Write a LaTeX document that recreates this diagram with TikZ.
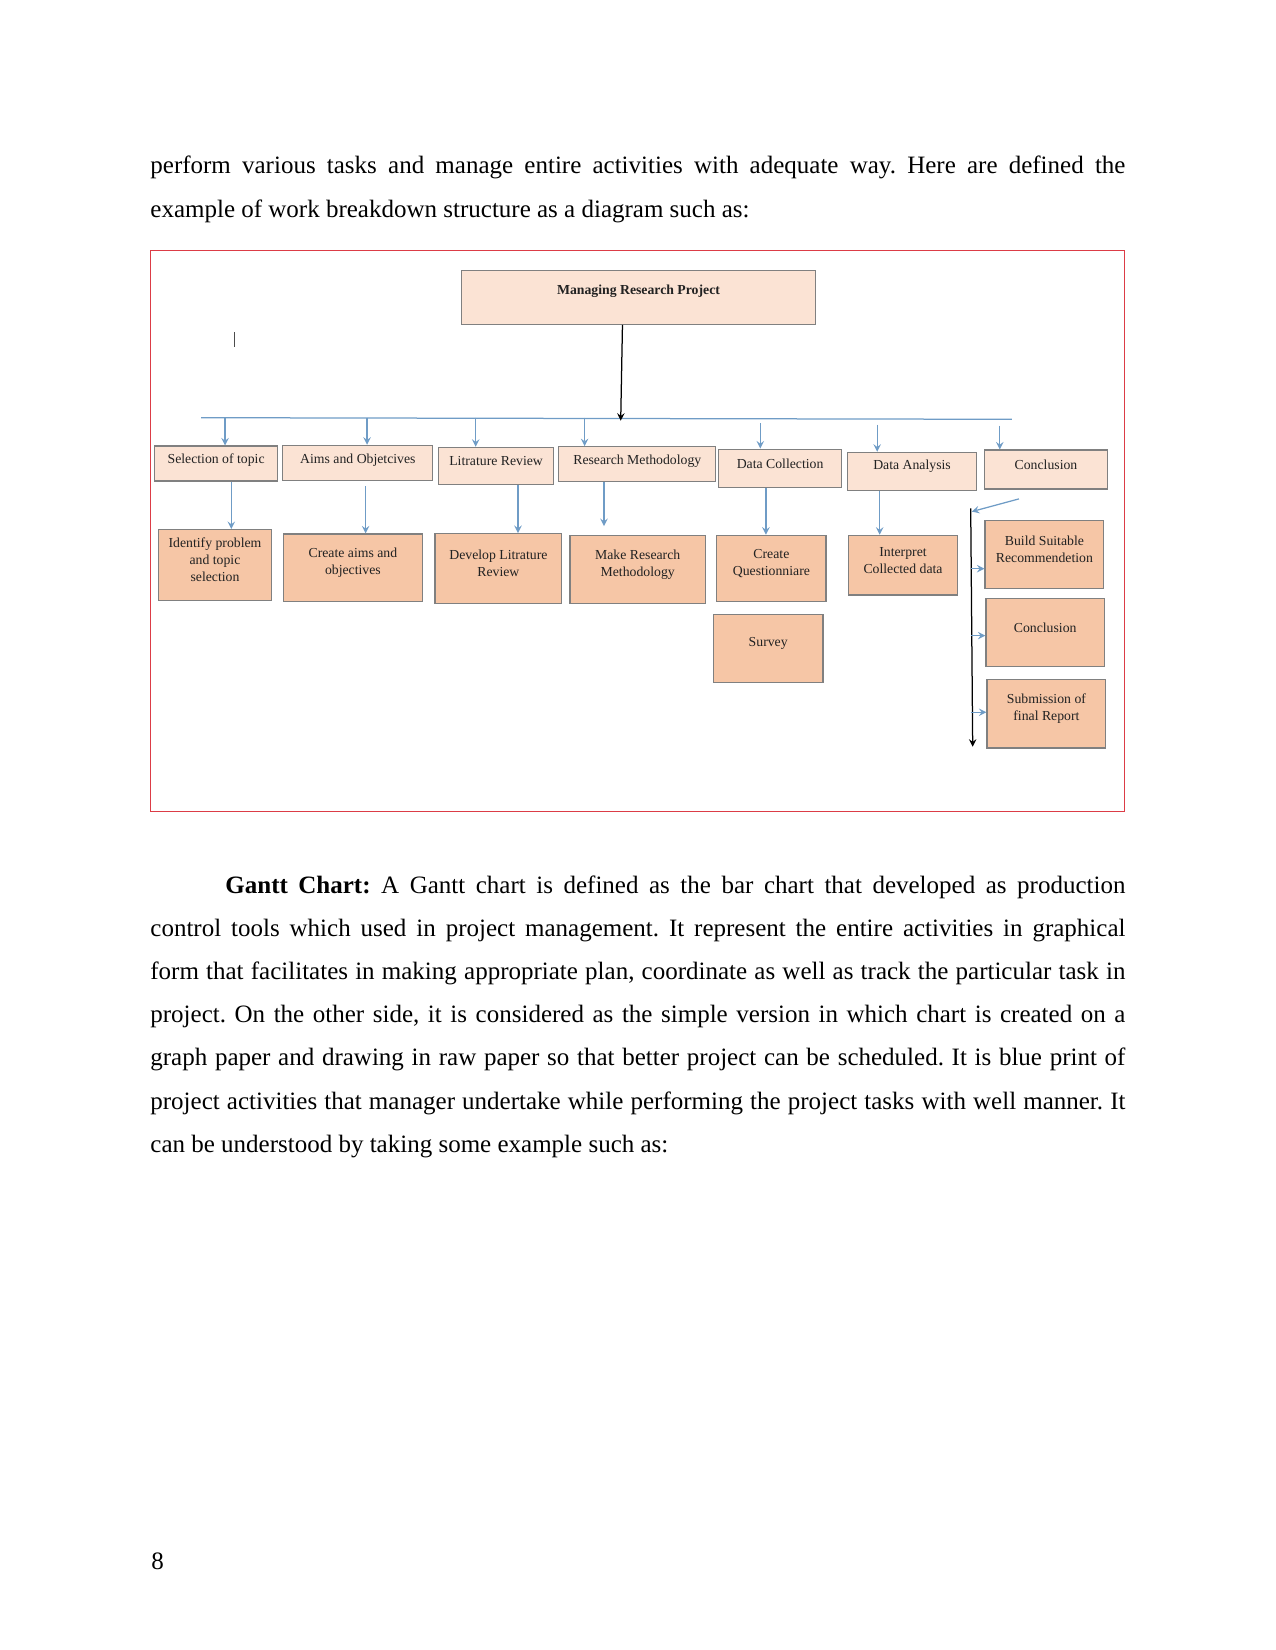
\documentclass[tikz,border=0pt]{standalone}
\usepackage{fontspec}
\setmainfont{Liberation Serif}
\usepackage{tikz}
\usetikzlibrary{shapes,arrows,positioning,calc}
\usepackage{xcolor}

\definecolor{wbslight}{HTML}{FBE3D4}
\definecolor{wbsdark}{HTML}{F6C6A6}
\definecolor{wbsedge}{HTML}{808080}
\definecolor{wbslink}{HTML}{6F9CC6}
\definecolor{wbsframe}{HTML}{DC3C46}
\definecolor{wbsink}{HTML}{222222}

\begin{document}
\begin{tikzpicture}[x=0.48pt, y=-0.48pt, >=stealth,
    para/.style={anchor=base west, inner sep=0pt, text width=468pt, align=justify,
      font=\fontsize{12}{20.75}\selectfont, execute at begin node={\frenchspacing\hyphenpenalty=10000}},
    sz/.style 2 args={minimum width=#1*0.48pt, minimum height=#2*0.48pt},
    headbox/.style={draw=wbsedge, fill=wbslight, line width=0.5pt, inner sep=0pt},
    phasebox/.style={draw=wbsedge, fill=wbslight, line width=0.5pt, inner sep=0pt},
    taskbox/.style={draw=wbsedge, fill=wbsdark, line width=0.6pt, inner sep=0pt},
    boxtext/.style={font=\fontsize{6.6}{8.2}\selectfont, align=center, text=wbsink, yshift=2.4pt, inner sep=0pt},
    link/.style={->, draw=wbslink, line width=0.6pt},
    spine/.style={->, draw=black, line width=0.6pt}]
    \useasboundingbox (0,0) rectangle (1275,1650);

    % Text above
    \node[para] (intro) at (150,174) {perform various tasks and manage entire activities with adequate way. Here are defined the\linebreak example of work breakdown structure as a diagram such as:};

    % Frame
    \draw[wbsframe, line width=0.6pt] (150.7,250.3) rectangle (1124.3,811.7);
    \draw[line width=0.6pt, black!70] (234.6,332.3) -- (234.6,346.7);

    % Top
    \node[headbox, sz={354}{53.6}, label={[boxtext, font=\fontsize{6.6}{8.2}\selectfont\bfseries, yshift=0.4pt]center:Managing Research Project}] (head) at (638.5,297.5) {};

    % Bar
    \coordinate (barL) at (201,417.7);
    \coordinate (barR) at (1011.8,419.3);
    \coordinate (hub) at (620.7,420.7);
    \draw[wbslink, line width=0.6pt] (barL) -- (barR);
    \draw[spine] ([xshift=-7.7pt]head.south) -- (hub);

    % Phases
    \node[phasebox, sz={123.6}{35}, label={[boxtext, yshift=-1pt]center:Selection of topic}] (sel) at (216.1,463.5) {};
    \node[phasebox, sz={150}{35}, label={[boxtext, yshift=-1pt]center:Aims and Objetcives}] (aims) at (357.9,462.8) {};
    \node[phasebox, sz={115}{37}, label={[boxtext]center:Litrature Review}] (lit) at (496.1,465.8) {};
    \node[phasebox, sz={156.7}{35}, label={[boxtext, yshift=-1pt]center:Research Methodology}] (meth) at (637.3,464.2) {};
    \node[phasebox, sz={123.2}{38.7}, label={[boxtext]center:Data Collection}] (coll) at (780.1,468.4) {};
    \node[phasebox, sz={128.3}{38.4}, label={[boxtext]center:Data Analysis}] (anal) at (912,471.5) {};
    \node[phasebox, sz={123.6}{39}, label={[boxtext]center:Conclusion}] (conc) at (1046,469.5) {};

    \draw[link] ([xshift=4.3pt]sel.north |- barL) -- ([xshift=4.3pt]sel.north);
    \draw[link] ([xshift=4.4pt]aims.north |- barL) -- ([xshift=4.4pt]aims.north);
    \draw[link] ([xshift=-9.8pt]lit.north |- barL) -- ([xshift=-9.8pt]lit.north);
    \draw[link] ([xshift=-25.3pt]meth.north |- barL) -- ([xshift=-25.3pt]meth.north);
    \draw[link] ([xshift=-9.5pt,yshift=-1.8pt]coll.north |- barR) -- ([xshift=-9.5pt]coll.north);
    \draw[link] ([xshift=-16.7pt,yshift=-2.5pt]anal.north |- barR) -- ([xshift=-16.7pt]anal.north);
    \draw[link] ([xshift=-22.2pt,yshift=-3pt]conc.north |- barR) -- ([xshift=-22.2pt]conc.north);

    % Tasks
    \node[taskbox, sz={113.6}{70.6}, label={[boxtext]center:Identify problem\\and topic\\selection}] (idp) at (215,565) {};
    \node[taskbox, sz={139.3}{67.7}, label={[boxtext]center:Create aims and\\objectives}] (cao) at (352.9,567.9) {};
    \node[taskbox, sz={126.8}{69.6}, label={[boxtext]center:Develop Litrature\\Review}] (dlr) at (498.4,568.5) {};
    \node[taskbox, sz={135.4}{68}, label={[boxtext]center:Make Research\\Methodology}] (mrm) at (637.7,569.3) {};
    \node[taskbox, sz={109.3}{66}, label={[boxtext]center:Create\\Questionniare}] (cq) at (771.4,568.3) {};
    \node[taskbox, sz={109.7}{68}, label={[boxtext]center:Survey}] (surv) at (768.2,648.3) {};
    \node[taskbox, sz={109.4}{59.7}, label={[boxtext]center:Interpret\\Collected data}] (icd) at (903,565.2) {};
    \node[taskbox, sz={118.7}{68}, label={[boxtext]center:Build Suitable\\Recommendetion}] (bsr) at (1044.4,554.3) {};
    \node[taskbox, sz={118.3}{68.4}, label={[boxtext]center:Conclusion}] (fin) at (1045.2,632.5) {};
    \node[taskbox, sz={118.7}{68.7}, label={[boxtext]center:Submission of\\final Report}] (sfr) at (1046.4,713.7) {};

    \draw[link] ([xshift=7.3pt]sel.south) -- ([xshift=7.3pt]sel.south |- idp.north);
    \draw[link] ([xshift=3.7pt,yshift=-2.7pt]aims.south) -- ([xshift=3.7pt]aims.south |- cao.north);
    \draw[link] ([xshift=10.5pt]lit.south) -- ([xshift=10.5pt]lit.south |- dlr.north);
    \draw[link] ([xshift=-16pt]meth.south) -- ([xshift=-16pt,yshift=4.1pt]meth.south |- mrm.north);
    \draw[link] ([xshift=-6.8pt]coll.south) -- ([xshift=-6.8pt]coll.south |- cq.north);
    \draw[link] ([xshift=-15.5pt]anal.south) -- ([xshift=-15.5pt]anal.south |- icd.north);

    % Conclusion branch
    \coordinate (spinetop) at (970.7,508.3);
    \coordinate (spineend) at (972.7,746.7);
    \draw[spine] (spinetop) -- (spineend);
    \draw[link] ([xshift=-13pt,yshift=-4.5pt]conc.south) -- ([xshift=0.5pt,yshift=-1.6pt]spinetop);
    \draw[link] ([yshift=-6.9pt]bsr.west -| spinetop) -- ([yshift=-6.9pt]bsr.west);
    \draw[link] ([yshift=-1.5pt]fin.west -| spinetop) -- ([yshift=-1.5pt]fin.west);
    \draw[link] ([yshift=0.7pt]sfr.west -| spinetop) -- ([yshift=0.7pt]sfr.west);

    % Text below
    \node[para] (gantt) at (150,893) {\hspace*{36pt}\textbf{Gantt Chart:} A Gantt chart is defined as the bar chart that developed as production\linebreak control tools which used in project management. It represent the entire activities in graphical\linebreak form that facilitates in making appropriate plan, coordinate as well as track the particular task in\linebreak project. On the other side, it is considered as the simple version in which chart is created on a\linebreak graph paper and drawing in raw paper so that better project can be scheduled. It is blue print of\linebreak project activities that manager undertake while performing the project tasks with well manner. It\linebreak can be understood by taking some example such as:};

    \node[anchor=base west, inner sep=0pt, font=\fontsize{12}{14}\selectfont] (pagenum) at (151,1569) {8};
\end{tikzpicture}
\end{document}
